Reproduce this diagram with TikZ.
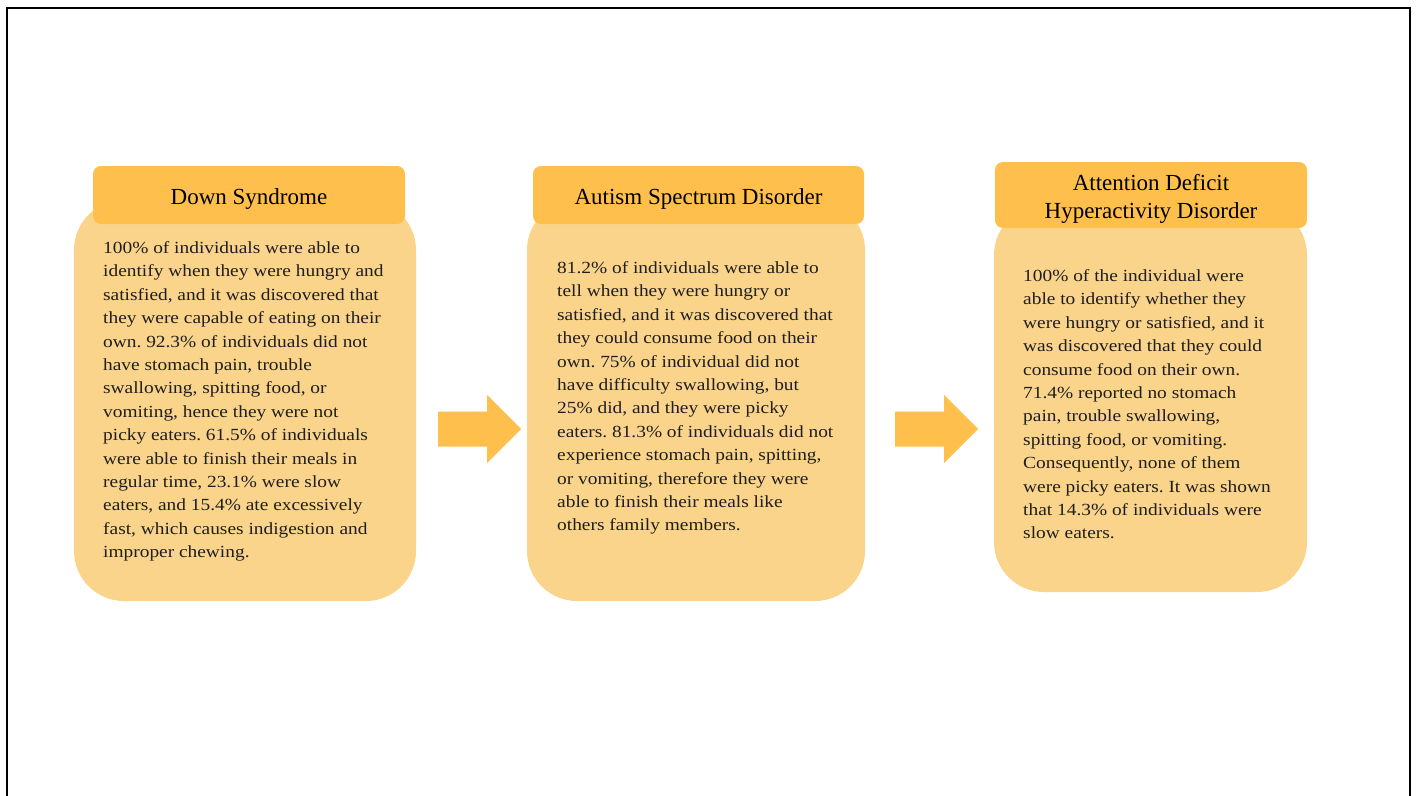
\documentclass[tikz,border=0pt]{standalone}
\usepackage{fontspec}
\setmainfont{Liberation Serif}
\newfontfamily\bodyfont[FakeStretch=1.14]{Liberation Serif}
\definecolor{hdr}{HTML}{FFBF4D}
\definecolor{bdy}{HTML}{FBD48C}
\definecolor{ink}{HTML}{1E1E1E}
\frenchspacing
\begin{document}
\begin{tikzpicture}[x=1pt,y=-1pt,
  bodybox/.style={fill=bdy, rounded corners=50pt, inner sep=0pt},
  hdrbox/.style={fill=hdr, rounded corners=8pt, inner sep=0pt},
  hdrtext/.style={inner sep=0pt, align=center,
    font=\fontsize{23}{28}\selectfont, text=black},
  bodytext/.style={anchor=north west, inner sep=0pt, align=left,
    font=\bodyfont\fontsize{17}{23.4}\selectfont, text=ink},
  blockarrow/.style={fill=hdr}]
\useasboundingbox (0,0) rectangle (1416,795);
\draw[line width=2.5pt] (7,800) -- (7,8) -- (1410,8) -- (1410,800);

% bodies
\node[bodybox, minimum width=342pt, minimum height=401pt] (b1) at (245,400.5) {};
\node[bodybox, minimum width=338pt, minimum height=401pt] (b2) at (696,400.5) {};
\node[bodybox, minimum width=313pt, minimum height=387pt] (b3) at (1150.5,398.5) {};

% headers
\node[hdrbox, minimum width=312pt, minimum height=58pt] (h1) at (249,195) {};
\node[hdrbox, minimum width=331pt, minimum height=58pt] (h2) at (698.5,195) {};
\node[hdrbox, minimum width=312pt, minimum height=66pt] (h3) at (1151,195) {};
\node[hdrtext] (l1) at (249,199) {Down Syndrome};
\node[hdrtext] (l2) at (698.5,199) {Autism Spectrum Disorder};
\node[hdrtext] (l3) at (1151,199) {Attention Deficit\\Hyperactivity Disorder};

% texts
\node[bodytext] (t1) at (103,241.4) {100\% of individuals were able to\\
identify when they were hungry and\\
satisfied, and it was discovered that\\
they were capable of eating on their\\
own. 92.3\% of individuals did not\\
have stomach pain, trouble\\
swallowing, spitting food, or\\
vomiting, hence they were not\\
picky eaters. 61.5\% of individuals\\
were able to finish their meals in\\
regular time, 23.1\% were slow\\
eaters, and 15.4\% ate excessively\\
fast, which causes indigestion and\\
improper chewing.};

\node[bodytext] (t2) at (557,261.4) {81.2\% of individuals were able to\\
tell when they were hungry or\\
satisfied, and it was discovered that\\
they could consume food on their\\
own. 75\% of individual did not\\
have difficulty swallowing, but\\
25\% did, and they were picky\\
eaters. 81.3\% of individuals did not\\
experience stomach pain, spitting,\\
or vomiting, therefore they were\\
able to finish their meals like\\
others family members.};

\node[bodytext] (t3) at (1023,269.4) {100\% of the individual were\\
able to identify whether they\\
were hungry or satisfied, and it\\
was discovered that they could\\
consume food on their own.\\
71.4\% reported no stomach\\
pain, trouble swallowing,\\
spitting food, or vomiting.\\
Consequently, none of them\\
were picky eaters. It was shown\\
that 14.3\% of individuals were\\
slow eaters.};

% block arrows
\coordinate (a1) at (438,429);
\coordinate (a2) at (895,429);
\foreach \a in {a1,a2}{
  \fill[blockarrow] (\a) ++(0,-17.5) -- ++(49,0) -- ++(0,-16.5) -- ++(34,34)
    -- ++(-34,34) -- ++(0,-16.5) -- ++(-49,0) -- cycle;
}
\end{tikzpicture}
\end{document}
